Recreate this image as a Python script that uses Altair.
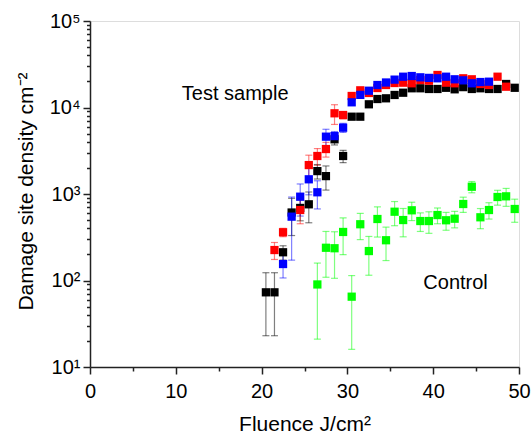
import altair as alt
import pandas as pd

# ---------------- data ----------------
black_x = [20.5, 21.5, 22.5, 23.5, 24.5, 25.5, 26.5, 27.5, 28.5, 29.5,
           30.5, 31.5, 32.5, 33.5, 34.5, 35.5, 36.5, 37.5, 38.5, 39.5,
           40.5, 41.5, 42.5, 43.5, 44.5, 45.5, 46.5, 47.5, 48.5, 49.5]
black_y = [73, 73, 212, 611, 690, 760, 1840, 1610, 4290, 2750,
           7830, 7830, 10890, 12530, 12770, 13960, 14820, 16680, 16680, 16370,
           16370, 16900, 16230, 17200, 16370, 16680, 16370, 16370, 18700, 16900]
black_e = [50, 50, 40, 280, 200, 295, 350, 500, 600, 450,
           450, 450, 600, 700, 700, 800, 800, 900, 900, 900,
           900, 900, 900, 900, 900, 900, 900, 900, 900, 900]

red_x = [21.5, 22.5, 24.5, 25.5, 26.5, 27.5, 28.5, 29.5, 30.5, 31.5,
         32.5, 33.5, 34.5, 35.5, 36.5, 37.5, 38.5, 39.5, 40.5, 41.5,
         42.5, 43.5, 44.5, 45.5, 46.5, 47.5, 48.5]
red_y = [225, 361, 653, 2160, 2750, 3310, 8570, 8190, 13590, 15800,
         14720, 16800, 18200, 19200, 19360, 19050, 20790, 20400, 23770, 19360,
         19050, 21760, 21190, 18700, 18200, 22700, 17390]
red_e = [50, 40, 200, 650, 600, 640, 2200, 800, 600, 700,
         800, 800, 800, 800, 800, 800, 800, 800, 800, 800,
         800, 800, 800, 800, 800, 800, 800]

blue_x = [22.5, 23.5, 24.5, 25.5, 26.5, 27.5, 28.5, 29.5, 30.5, 31.5,
          32.5, 33.5, 34.5, 35.5, 36.5, 37.5, 38.5, 39.5, 40.5, 41.5,
          42.5, 43.5, 44.5, 45.5, 46.5]
blue_y = [155, 547, 931, 1479, 1047, 4600, 4670, 5840, 11480, 14000,
          15630, 18200, 19460, 21000, 22700, 23120, 22340, 22000, 21760, 22700,
          21190, 20600, 19050, 19700, 19880]
blue_e = [48, 375, 375, 500, 375, 1000, 600, 700, 800, 800,
          800, 800, 800, 800, 800, 800, 800, 800, 800, 800,
          800, 800, 800, 800, 800]

green_x = [26.5, 27.5, 28.5, 29.5, 30.5, 31.5, 32.5, 33.5, 34.5, 35.5,
           36.5, 37.5, 38.5, 39.5, 40.5, 41.5, 42.5, 43.5, 44.5, 45.5,
           46.5, 47.5, 48.5, 49.5]
green_y = [90, 239, 236, 364, 65, 447, 219, 514, 292, 624,
           500, 648, 487, 487, 571, 497, 518, 766, 1213, 538,
           653, 923, 940, 671]
green_e = [69, 130, 130, 165, 49, 150, 104, 196, 122, 194,
           180, 155, 118, 136, 118, 116, 112, 153, 180, 141,
           140, 180, 220, 200]

series_names = ["black", "red", "blue", "green"]
series_colors = ["#000000", "#ff0000", "#0000ff", "#00ff00"]

y_major = [10, 100, 1000, 10000, 100000]
y_minor = [20, 30, 40, 50, 60, 70, 80, 90,
           200, 300, 400, 500, 600, 700, 800, 900,
           2000, 3000, 4000, 5000, 6000, 7000, 8000, 9000,
           20000, 30000, 40000, 50000, 60000, 70000, 80000, 90000]
x_major = [0, 10, 20, 30, 40, 50]
x_minor = [5, 15, 25, 35, 45]

note_text = ["Test sample", "Control"]
note_x = [10.7, 38.85]
note_y = [12200, 80]

# ---------------- build table ----------------
rows = []
for name, xs, ys, es in [("black", black_x, black_y, black_e),
                         ("red", red_x, red_y, red_e),
                         ("blue", blue_x, blue_y, blue_e),
                         ("green", green_x, green_y, green_e)]:
    for x, y, e in zip(xs, ys, es):
        rows.append({"series": name, "fluence": x, "density": y,
                     "lo": y - e, "hi": y + e})
df = pd.DataFrame(rows)
notes = pd.DataFrame({"text": note_text, "x": note_x, "y": note_y})

FONT = "Liberation Sans"
xscale = alt.Scale(domain=[0, 50], nice=False, zero=False)
yscale = alt.Scale(type="log", domain=[10, 100000], nice=False)
cscale = alt.Scale(domain=series_names, range=series_colors)

label_expr = ("datum.value >= 99999 ? '10\u2075' : datum.value >= 9999 ? '10\u2074' : "
              "datum.value >= 999 ? '10\u00b3' : datum.value >= 99 ? '10\u00b2' : '10\u00b9'")

axis_common = dict(grid=False, domainColor="#222222", domainWidth=1.5,
                   tickColor="#222222", tickWidth=1.5, labelColor="#000000",
                   titleColor="#000000", labelFont=FONT, titleFont=FONT,
                   titleFontWeight="normal", labelFlush=False)

y_major_axis = alt.Axis(values=y_major, labelExpr=label_expr, tickSize=7,
                        labelPadding=3, labelFontSize=20, orient="left",
                        title="Damage site density cm\u207b\u00b2", titleFontSize=21,
                        titleX=-58, titleY=170, titleBaseline="alphabetic",
                        **axis_common)
y_minor_axis = alt.Axis(values=y_minor, labels=False, tickSize=3.5, orient="left",
                        title=None, domain=False, grid=False,
                        tickColor="#222222", tickWidth=1.5)
x_major_axis = alt.Axis(values=x_major, tickSize=7, labelPadding=7, labelFontSize=20,
                        orient="bottom", title="Fluence J/cm\u00b2", titleFontSize=21,
                        titleY=63, titleBaseline="alphabetic", **axis_common)
x_minor_axis = alt.Axis(values=x_minor, labels=False, tickSize=4, orient="bottom",
                        title=None, domain=False, grid=False,
                        tickColor="#222222", tickWidth=1.5)

bars = alt.Chart(df).mark_errorbar(ticks=True, size=7, thickness=1.2, opacity=0.5).encode(
    x=alt.X("fluence:Q", scale=xscale, axis=x_minor_axis),
    y=alt.Y("lo:Q", scale=yscale, axis=y_minor_axis),
    y2="hi:Q",
    color=alt.Color("series:N", scale=cscale, legend=None),
)

points = alt.Chart(df).mark_square(size=68, opacity=1, filled=True).encode(
    x=alt.X("fluence:Q", scale=xscale, axis=x_major_axis),
    y=alt.Y("density:Q", scale=yscale, axis=y_major_axis),
    color=alt.Color("series:N", scale=cscale, legend=None),
)

texts = alt.Chart(notes).mark_text(align="left", baseline="alphabetic", fontSize=20,
                                   font=FONT, color="#000000").encode(
    x=alt.X("x:Q", scale=xscale, axis=None),
    y=alt.Y("y:Q", scale=yscale, axis=None),
    text="text:N",
)

chart = alt.layer(bars, points, texts).resolve_axis(
    x="independent", y="independent"
).properties(
    width=429, height=346, autosize="none",
    padding={"left": 90, "top": 21, "right": 13, "bottom": 67},
).configure_view(strokeWidth=0).configure(font=FONT, background="#ffffff")

chart.save("out.html", embed_options={"renderer": "svg", "actions": False})
